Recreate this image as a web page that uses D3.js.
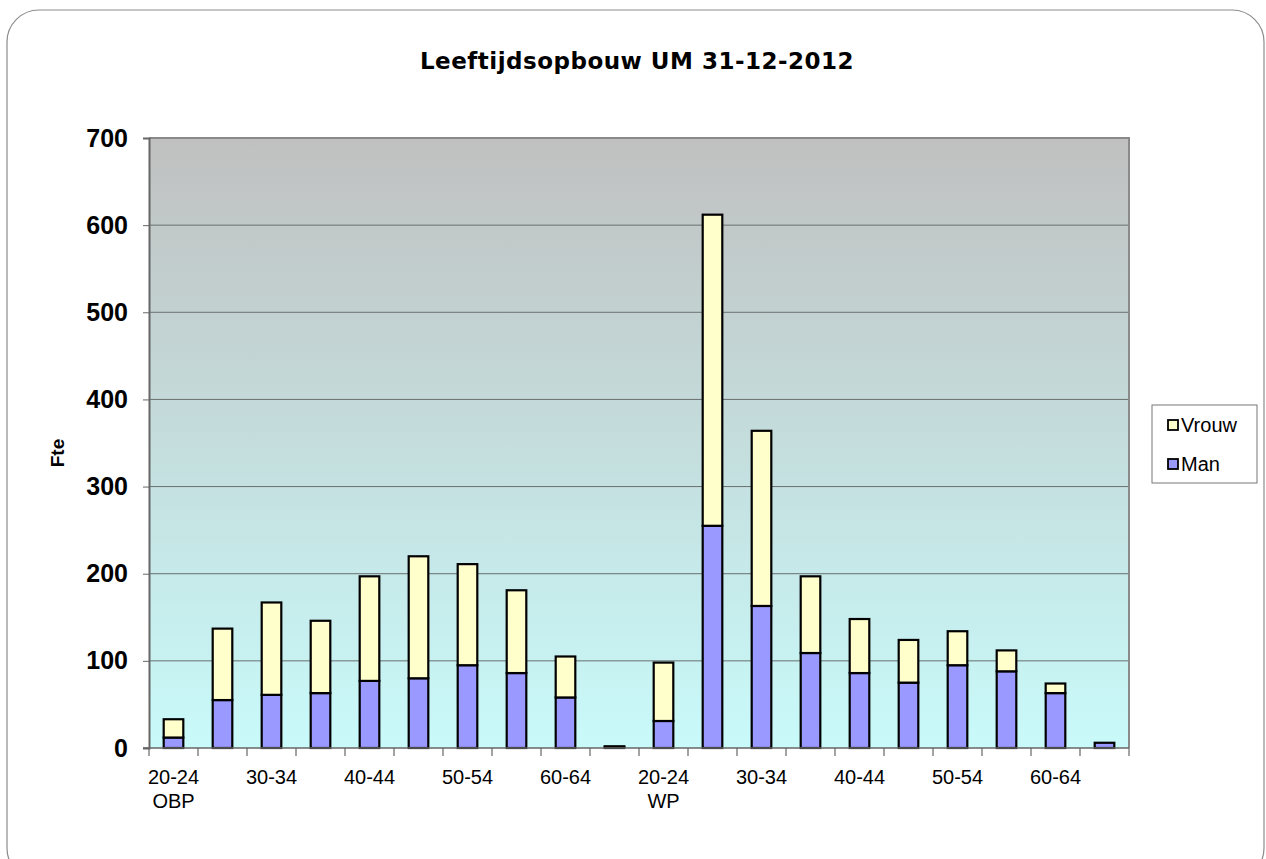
<!DOCTYPE html>
<html>
<head>
<meta charset="utf-8">
<script src="https://cdn.jsdelivr.net/npm/d3@7"></script>
<style>
  body { margin: 0; background: #fff; }
  text { font-family: "Liberation Sans", Arial, sans-serif; }
</style>
</head>
<body>
<div id="chart"></div>
<script>
// age groups, two blocks (OBP and WP)
var ages = ["20-24", "25-29", "30-34", "35-39", "40-44", "45-49", "50-54", "55-59", "60-64", "65+"];
var groups = ["OBP", "WP"];
var man = [12, 55, 61, 63, 77, 80, 95, 86, 58, 1,
           31, 255, 163, 109, 86, 75, 95, 88, 63, 6];
var vrouw = [21, 82, 106, 83, 120, 140, 116, 95, 47, 1,
             67, 357, 201, 88, 62, 49, 39, 24, 11, 0];
var yTicks = [0, 100, 200, 300, 400, 500, 600, 700];

var W = 1266, H = 859;
var margin = {top: 138, right: 137, bottom: 111, left: 149},
    width = W - margin.left - margin.right,
    height = H - margin.top - margin.bottom;

var data = [];
groups.forEach(function(g, gi) {
  ages.forEach(function(a, ai) {
    var i = gi * ages.length + ai;
    data.push({key: g + " " + a, age: a, group: g, idx: ai, man: man[i], vrouw: vrouw[i]});
  });
});

var svg = d3.select("#chart").append("svg")
  .attr("width", W)
  .attr("height", H);

// outer frame
svg.append("rect")
  .attr("x", 7).attr("y", 10)
  .attr("width", 1257).attr("height", 870)
  .attr("rx", 32).attr("ry", 32)
  .attr("fill", "#fff")
  .attr("stroke", "#8c8c8c")
  .attr("stroke-width", 1.2);

var defs = svg.append("defs");
var grad = defs.append("linearGradient")
  .attr("id", "bg").attr("x1", 0).attr("y1", 0).attr("x2", 0).attr("y2", 1);
grad.append("stop").attr("offset", "0%").attr("stop-color", "#c0c0c0");
grad.append("stop").attr("offset", "100%").attr("stop-color", "#c9fafa");

svg.append("text")
  .attr("x", 637).attr("y", 69)
  .attr("text-anchor", "middle")
  .style("font-family", "'DejaVu Sans', Verdana, sans-serif")
  .style("font-weight", "bold")
  .style("font-size", "23px")
  .style("letter-spacing", "0.5px")
  .text("Leeftijdsopbouw UM 31-12-2012");

var g = svg.append("g")
  .attr("transform", "translate(" + margin.left + "," + margin.top + ")");

var x = d3.scaleBand().domain(data.map(function(d) { return d.key; }))
  .range([0, width]).paddingInner(0).paddingOuter(0);
var y = d3.scaleLinear().domain([0, 700]).range([height, 0]);

g.append("rect")
  .attr("width", width).attr("height", height)
  .attr("fill", "url(#bg)");

// gridlines
g.selectAll(".grid").data(yTicks.slice(1, -1)).enter().append("line")
  .attr("x1", 0).attr("x2", width)
  .attr("y1", function(d) { return y(d); })
  .attr("y2", function(d) { return y(d); })
  .attr("stroke", "#6a6f6f").attr("stroke-width", 1);

// plot border (top / right)
g.append("path")
  .attr("d", "M0,0H" + width + "V" + height)
  .attr("fill", "none").attr("stroke", "#8a8a8a").attr("stroke-width", 2);

// stacked bars
var stack = d3.stack().keys(["man", "vrouw"]);
var series = stack(data);
var colors = {man: "#9999ff", vrouw: "#ffffcc"};
var bw = x.bandwidth() * 0.4;

g.selectAll(".series").data(series).enter().append("g")
  .attr("fill", function(s) { return colors[s.key]; })
  .selectAll("rect").data(function(s) { return s; }).enter().append("rect")
  .attr("x", function(d) { return x(d.data.key) + (x.bandwidth() - bw) / 2; })
  .attr("width", bw)
  .attr("y", function(d) { return y(d[1]); })
  .attr("height", function(d) { return y(d[0]) - y(d[1]); })
  .attr("stroke", "#000").attr("stroke-width", 2.2);

// y axis
var yAxis = g.append("g")
  .call(d3.axisLeft(y).tickValues(yTicks).tickSize(6).tickPadding(15));
yAxis.select(".domain").attr("stroke", "#666").attr("stroke-width", 2);
yAxis.selectAll(".tick line").attr("stroke", "#666");
yAxis.selectAll("text")
  .style("font-size", "25px").style("font-weight", "bold")
  .attr("fill", "#000");

// x axis: ticks at band boundaries
var xAxis = g.append("g").attr("transform", "translate(0," + height + ")");
xAxis.append("line").attr("x1", -6).attr("x2", width)
  .attr("stroke", "#666").attr("stroke-width", 1.5);
var bounds = x.domain().map(function(k) { return x(k); }).concat([width]);
xAxis.selectAll(".tk").data(bounds).enter().append("line")
  .attr("x1", function(d) { return d; }).attr("x2", function(d) { return d; })
  .attr("y1", 0).attr("y2", 8)
  .attr("stroke", "#666").attr("stroke-width", 1.2);

var labelled = data.filter(function(d) { return d.idx % 2 === 0; });
xAxis.selectAll(".lbl").data(labelled).enter().append("text")
  .attr("x", function(d) { return x(d.key) + x.bandwidth() / 2; })
  .attr("y", 36)
  .attr("text-anchor", "middle")
  .style("font-size", "20px")
  .attr("fill", "#000")
  .text(function(d) { return d.age; });
xAxis.selectAll(".grp").data(labelled.filter(function(d) { return d.idx === 0; })).enter().append("text")
  .attr("x", function(d) { return x(d.key) + x.bandwidth() / 2; })
  .attr("y", 60)
  .attr("text-anchor", "middle")
  .style("font-size", "20px")
  .attr("fill", "#000")
  .text(function(d) { return d.group; });

// y axis title
svg.append("text")
  .attr("transform", "translate(64,453) rotate(-90)")
  .attr("text-anchor", "middle")
  .style("font-size", "19px").style("font-weight", "bold")
  .text("Fte");

// legend
var legend = svg.append("g").attr("transform", "translate(1152,405)");
legend.append("rect").attr("width", 105).attr("height", 78)
  .attr("fill", "#fff").attr("stroke", "#777").attr("stroke-width", 1);
var legItems = [{key: "vrouw", label: "Vrouw"}, {key: "man", label: "Man"}];
legItems.forEach(function(it, i) {
  var row = legend.append("g").attr("transform", "translate(16," + (20 + i * 39) + ")");
  row.append("rect").attr("x", 0).attr("y", -5).attr("width", 10).attr("height", 10)
    .attr("fill", colors[it.key]).attr("stroke", "#000").attr("stroke-width", 1.8);
  row.append("text").attr("x", 13).attr("y", 7)
    .style("font-size", "20px").text(it.label);
});
</script>
</body>
</html>
